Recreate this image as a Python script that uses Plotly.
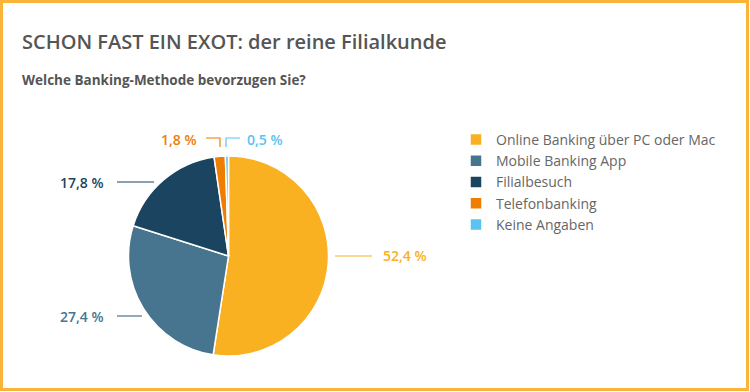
import plotly.graph_objects as go

W, H = 750, 392

categories = ["Online Banking über PC oder Mac", "Mobile Banking App", "Filialbesuch",
              "Telefonbanking", "Keine Angaben"]
values = [52.4, 27.4, 17.8, 1.8, 0.5]
value_labels = ["52,4 %", "27,4 %", "17,8 %", "1,8 %", "0,5 %"]
colors = ["#F9B122", "#47758F", "#1B4461", "#EE7D00", "#5BC3F0"]

def px(x):
    return x / W

def py(y):
    return 1 - y / H

fig = go.Figure()
fig.add_trace(go.Pie(
    labels=categories, values=values, sort=False, direction="clockwise", rotation=0,
    marker=dict(colors=colors, line=dict(color="white", width=1.5)),
    textinfo="none", hoverinfo="label+percent",
    domain=dict(x=[px(128.5), px(328.5)], y=[py(356), py(156)]),
))

# value labels with connector lines
label_pos = [(381, 256, "left"), (106, 316, "right"), (106, 182, "right"), (199, 139, "right"), (245, 139, "left")]
for (x, y, anc), txt, c in zip(label_pos, value_labels, colors):
    fig.add_annotation(x=px(x), y=py(y), xref="paper", yref="paper", text=txt, showarrow=False,
                       xanchor=anc, yanchor="middle",
                       font=dict(size=14, color=c, family="Open Sans", weight=600))

connectors = [
    ([335, 372], [256, 256], colors[0]),
    ([117, 142], [316, 316], colors[1]),
    ([117, 154], [182, 182], colors[2]),
    ([206, 220, 220], [138, 138, 147], colors[3]),
    ([240, 226, 226], [138, 138, 147], colors[4]),
]
for xs, ys, c in connectors:
    path = "M " + " L ".join(f"{px(a)},{py(b)}" for a, b in zip(xs, ys))
    fig.add_shape(type="path", path=path, xref="paper", yref="paper", line=dict(color=c, width=1.2))

# frame
fig.add_shape(type="rect", xref="paper", yref="paper", x0=px(1.5), x1=px(747.5), y0=py(389.5), y1=py(1.5),
              line=dict(color="#FBB43A", width=3))

fig.add_annotation(x=px(20), y=py(42), xref="paper", yref="paper", showarrow=False, xanchor="left",
                   yanchor="middle", text="SCHON FAST EIN EXOT: der reine Filialkunde",
                   font=dict(size=20, color="#555555", family="Open Sans", weight=600))
fig.add_annotation(x=px(20), y=py(80), xref="paper", yref="paper", showarrow=False, xanchor="left",
                   yanchor="middle", text="<b>Welche Banking-Methode bevorzugen Sie?</b>",
                   font=dict(size=13.5, color="#555555", family="Open Sans"))

fig.update_layout(
    width=W, height=H, margin=dict(l=0, r=0, t=0, b=0),
    paper_bgcolor="white", plot_bgcolor="white",
    showlegend=True,
    legend=dict(x=px(456), y=py(124), xanchor="left", yanchor="top",
                font=dict(size=14, color="#666666", family="Open Sans"),
                itemclick=False, itemdoubleclick=False, tracegroupgap=0),
)
fig.write_html("out.html", config={"displayModeBar": False},
               post_script="document.body.style.margin='0';document.body.style.padding='0';")
